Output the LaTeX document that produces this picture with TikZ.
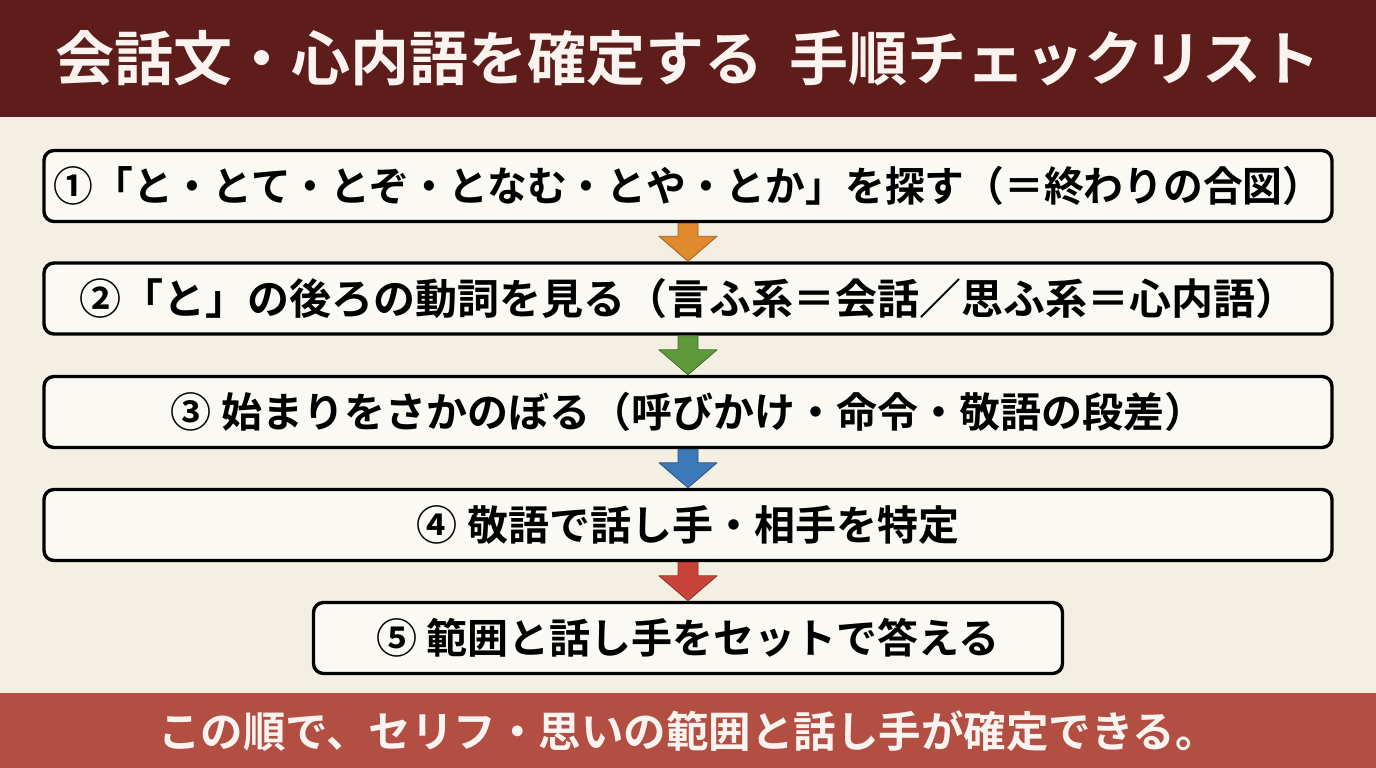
\documentclass[tikz,border=0pt]{standalone}
\usepackage{fontspec}
\setmainfont{Noto Sans CJK JP}[BoldFont={Noto Sans CJK JP Bold}]
\usetikzlibrary{calc,decorations.pathmorphing}
\definecolor{titlebg}{HTML}{5E1C1A}
\definecolor{footbg}{HTML}{B34E42}
\definecolor{paper}{HTML}{F3EFE3}
\definecolor{boxfill}{HTML}{FBF9F3}
\definecolor{titletxt}{HTML}{FAF3EF}
\definecolor{arOrange}{HTML}{E08A2E}
\definecolor{arGreen}{HTML}{5E9A3A}
\definecolor{arBlue}{HTML}{3D78B8}
\definecolor{arRed}{HTML}{C8443A}
\begin{document}
\begin{tikzpicture}[x=1pt,y=-1pt,
  bar/.style={fill=#1, draw=none, inner sep=0pt, anchor=north west},
  stepbox/.style={draw=black, line width=3.4pt, rounded corners=10pt, fill=boxfill,
    minimum height=71pt, inner sep=0pt,
    font=\fontsize{41}{44}\selectfont\bfseries},
  flowarrow/.style={fill=#1, draw=#1!70!black, line width=0.8pt, line join=round}
]
\useasboundingbox (0,0) rectangle (1376,768);
\fill[paper] (0,0) rectangle (1376,768);
\node[bar=titlebg, minimum width=1376pt, minimum height=117pt] (titlebar) at (0,0) {};
\node[text=titletxt, font=\fontsize{59}{62}\selectfont\bfseries] (title) at (688,58)
  {会話文・心内語を確定する\hspace{0.45em}手順チェックリスト};
\node[bar=footbg, minimum width=1376pt, minimum height=75pt] (footbar) at (0,693) {};
\node[text=titletxt, font=\fontsize{42.5}{46}\selectfont\bfseries] (foot) at (688,731)
  {この順で、セリフ・思いの範囲と話し手が確定できる。};

\node[stepbox, minimum width=1288pt] (b1) at (688,186) {\scalebox{0.97}[1]{①「と・とて・とぞ・となむ・とや・とか」を探す（＝終わりの合図）}};
\node[stepbox, minimum width=1288pt, font=\fontsize{42}{44}\selectfont\bfseries] (b2) at (688,298.5) {②「と」の後ろの動詞を見る（言ふ系＝会話／思ふ系＝心内語）};
\node[stepbox, minimum width=1288pt] (b3) at (688,412) {③ 始まりをさかのぼる（呼びかけ・命令・敬語の段差）};
\node[stepbox, minimum width=1288pt] (b4) at (688,525) {④ 敬語で話し手・相手を特定};
\node[stepbox, minimum width=749pt] (b5) at (688,638) {⑤ 範囲と話し手をセットで答える};

\foreach \a/\b/\c in {b1/b2/arOrange, b2/b3/arGreen, b3/b4/arBlue, b4/b5/arRed}{
  \draw[flowarrow=\c]
    ($(\a.south)+(-10,0)$) -- ($(\b.north)+(-10,-25)$) -- ($(\b.north)+(-29,-25)$)
    -- (\b.north) -- ($(\b.north)+(29,-25)$) -- ($(\b.north)+(10,-25)$)
    -- ($(\a.south)+(10,0)$) -- cycle;
}
\end{tikzpicture}
\end{document}
